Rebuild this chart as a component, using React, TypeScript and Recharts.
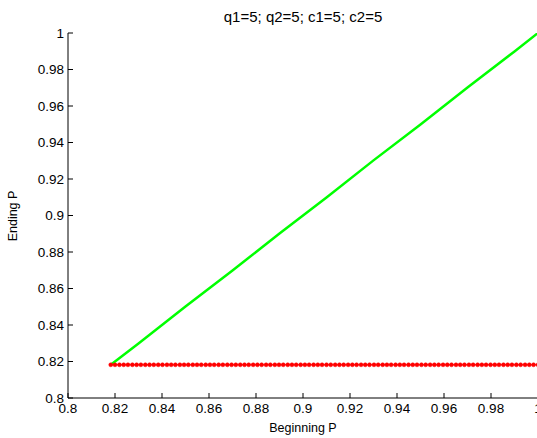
import React from "react";
import { LineChart, Line, XAxis, YAxis } from "recharts";

const TITLE = "q1=5; q2=5; c1=5; c2=5";
const X_LABEL = "Beginning P";
const Y_LABEL = "Ending P";
const X_TICKS = [0.8, 0.82, 0.84, 0.86, 0.88, 0.9, 0.92, 0.94, 0.96, 0.98, 1];
const Y_TICKS = [0.8, 0.82, 0.84, 0.86, 0.88, 0.9, 0.92, 0.94, 0.96, 0.98, 1];

// Beginning P values of the red markers
const beginningP = [
  0.8182, 0.82, 0.8219, 0.8237, 0.8255, 0.8274, 0.8292, 0.831, 0.8329, 0.8347,
  0.8365, 0.8384, 0.8402, 0.8421, 0.8439, 0.8457, 0.8476, 0.8494, 0.8512, 0.8531,
  0.8549, 0.8567, 0.8586, 0.8604, 0.8622, 0.8641, 0.8659, 0.8678, 0.8696, 0.8714,
  0.8733, 0.8751, 0.8769, 0.8788, 0.8806, 0.8824, 0.8843, 0.8861, 0.888, 0.8898,
  0.8916, 0.8935, 0.8953, 0.8971, 0.899, 0.9008, 0.9026, 0.9045, 0.9063, 0.9081,
  0.91, 0.9118, 0.9137, 0.9155, 0.9173, 0.9192, 0.921, 0.9228, 0.9247, 0.9265,
  0.9283, 0.9302, 0.932, 0.9339, 0.9357, 0.9375, 0.9394, 0.9412, 0.943, 0.9449,
  0.9467, 0.9485, 0.9504, 0.9522, 0.9541, 0.9559, 0.9577, 0.9596, 0.9614, 0.9632,
  0.9651, 0.9669, 0.9687, 0.9706, 0.9724, 0.9743, 0.9761, 0.9779, 0.9798, 0.9816,
  0.9834, 0.9853, 0.9871, 0.9889, 0.9908, 0.9926, 0.9945, 0.9963, 0.9981, 1.0,
];
const redEndingP = 0.8182;

// Green curve samples
const greenBeginning = [0.8182, 0.83, 0.85, 0.87, 0.89, 0.91, 0.93, 0.95, 0.97, 0.99, 1.0];
const greenEnding = [0.8182, 0.8298, 0.8501, 0.8699, 0.8901, 0.9098, 0.9302, 0.9499, 0.9701, 0.9899, 1.0];

const redData = beginningP.map((b) => ({ b, e: redEndingP }));
const greenData = greenBeginning.map((b, i) => ({ b, e: greenEnding[i] }));

const FONT = "'Liberation Sans', Arial, Helvetica, sans-serif";

export default function App() {
  return (
    <div style={{ position: "absolute", left: 0, top: 0, background: "#fff", width: 537, height: 438, overflow: "hidden" }}>
      <LineChart
        width={545}
        height={438}
        margin={{ top: 33, right: 7, bottom: 0, left: 8 }}
        style={{ fontFamily: FONT }}
      >
        <text x={303} y={22} textAnchor="middle" fontSize={15} fill="#000" fontFamily={FONT}>
          {TITLE}
        </text>
        <text x={303} y={432} textAnchor="middle" fontSize={12.5} fill="#000" fontFamily={FONT}>
          {X_LABEL}
        </text>
        <text
          x={17}
          y={216}
          textAnchor="middle"
          fontSize={12.5}
          fill="#000"
          fontFamily={FONT}
          transform="rotate(-90 17 216)"
        >
          {Y_LABEL}
        </text>
        <XAxis
          type="number"
          dataKey="b"
          domain={[0.8, 1]}
          ticks={X_TICKS}
          interval={0}
          allowDataOverflow
          height={40}
          tickSize={-5}
          tickMargin={10}
          stroke="#000"
          tick={{ fill: "#000", fontSize: 13.5, fontFamily: FONT }}
          tickFormatter={(v: number) => String(Number(v.toFixed(2)))}
        />
        <YAxis
          type="number"
          dataKey="e"
          domain={[0.8, 1]}
          ticks={Y_TICKS}
          interval={0}
          allowDataOverflow
          width={60}
          tickSize={-5}
          tickMargin={9}
          stroke="#000"
          tick={{ fill: "#000", fontSize: 13.5, fontFamily: FONT }}
          tickFormatter={(v: number) => String(Number(v.toFixed(2)))}
        />
        <Line
          data={greenData}
          dataKey="e"
          type="linear"
          stroke="#00ff00"
          strokeWidth={2.5}
          dot={false}
          isAnimationActive={false}
        />
        <Line
          data={redData}
          dataKey="e"
          type="linear"
          stroke="#ff0000"
          strokeWidth={1}
          dot={{ r: 2, fill: "#ff0000", stroke: "#ff0000", strokeWidth: 0.5 }}
          isAnimationActive={false}
        />
      </LineChart>
    </div>
  );
}
